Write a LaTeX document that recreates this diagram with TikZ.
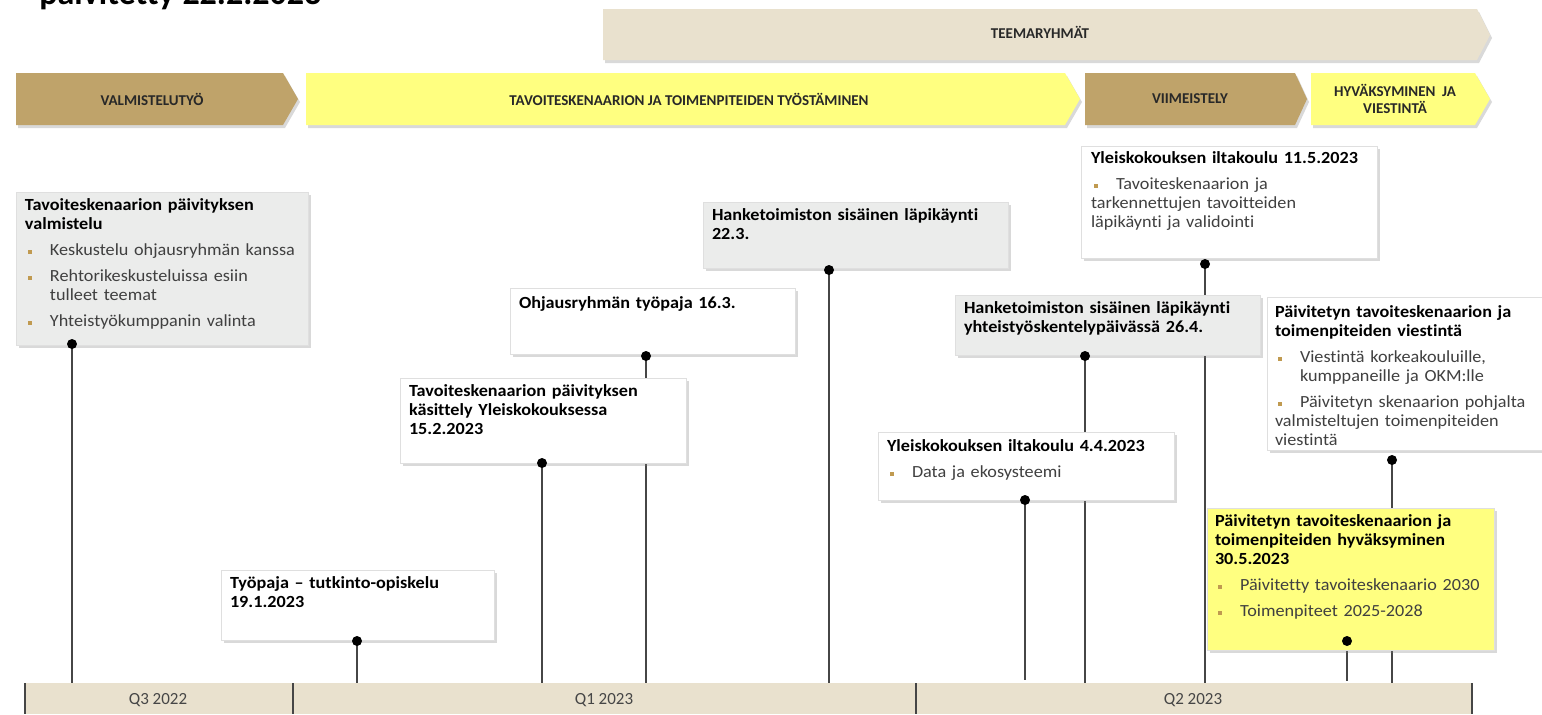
\documentclass[tikz,border=0pt]{standalone}
\usepackage{fontspec}
\setmainfont{Carlito}[RawFeature=-liga]
\newfontfamily\boxfont{Carlito}[FakeStretch=1.07, RawFeature=-liga]
\usetikzlibrary{shadows}
\definecolor{gold}{RGB}{191,163,106}
\definecolor{yelc}{RGB}{255,255,128}
\definecolor{beige}{RGB}{233,225,206}
\definecolor{graybox}{RGB}{235,236,235}
\definecolor{bulletc}{RGB}{192,154,80}
\definecolor{bodytext}{RGB}{64,64,64}
\definecolor{linec}{RGB}{70,70,70}
\definecolor{arrtext}{RGB}{40,40,40}
\definecolor{qtext}{RGB}{70,70,70}
\newcommand{\bitem}[1]{\par\vspace{3.5pt}\noindent\hangindent=12.5pt\hangafter=1\makebox[12.5pt][l]{\hspace{1.5pt}\textcolor{bulletc}{\raisebox{0.25ex}{\rule{1.8pt}{1.8pt}}}}\textcolor{bodytext}{#1}}
\begin{document}
\begin{tikzpicture}[x=0.5pt,y=-0.5pt,
  conn/.style={draw=linec, line width=0.6pt},
  dot/.style={circle, fill=black, inner sep=0pt, minimum size=5pt},
  boxw/.style={rectangle, fill=white, draw=gray!25, line width=0.4pt, inner sep=0pt,
    drop shadow={shadow xshift=1.5pt, shadow yshift=-1.5pt, opacity=0.3}},
  boxg/.style={boxw, fill=graybox},
  boxy/.style={boxw, fill=yelc},
  txt/.style={anchor=north west, inner sep=0pt, align=left,
    font=\boxfont\fontsize{8.5}{9.5}\selectfont, text=black},
  arrshape/.style={drop shadow={shadow xshift=1pt, shadow yshift=-1.5pt, opacity=0.3}},
  albl/.style={font=\bfseries\fontsize{7.5}{8.5}\selectfont, text=arrtext, align=center, inner sep=0pt},
  qlbl/.style={font=\fontsize{8.5}{10}\selectfont, text=qtext, inner sep=0pt},
  sep/.style={draw=linec, line width=1pt}
]
\useasboundingbox (0,0) rectangle (1542,714);

% partially visible title
\node[anchor=base west, inner sep=0pt, font=\bfseries\fontsize{17}{20}\selectfont] (title) at (39,4) {päivitetty 22.2.2023};

% phase arrows
\path[arrshape, fill=beige] (603,9) -- (1477,9) -- (1490,35) -- (1477,60) -- (603,60) -- cycle;
\node[albl] (teema) at (1040,32) {TEEMARYHMÄT};
\path[arrshape, fill=gold] (16,73) -- (283,73) -- (298,99) -- (283,125) -- (16,125) -- cycle;
\node[albl] (valm) at (152,99) {VALMISTELUTYÖ};
\path[arrshape, fill=yelc] (306,73) -- (1065,73) -- (1080,99) -- (1065,125) -- (306,125) -- cycle;
\node[albl] (tyost) at (689,99) {TAVOITESKENAARION JA TOIMENPITEIDEN TYÖSTÄMINEN};
\path[arrshape, fill=gold] (1085,73) -- (1295,73) -- (1307,99) -- (1295,125) -- (1085,125) -- cycle;
\node[albl] (viim) at (1190,99) {VIIMEISTELY};
\path[arrshape, fill=yelc] (1311,73) -- (1475,73) -- (1490,99) -- (1475,125) -- (1311,125) -- cycle;
\node[albl] (hyv) at (1395,99) {HYVÄKSYMINEN\ \ JA\\VIESTINTÄ};

% timeline band
\fill[beige] (25,683) rectangle (1472,714);
\coordinate (s1a) at (25,683); \coordinate (s1b) at (25,714);
\coordinate (s2a) at (293,683); \coordinate (s2b) at (293,714);
\coordinate (s3a) at (916,683); \coordinate (s3b) at (916,714);
\coordinate (s4a) at (1472,683); \coordinate (s4b) at (1472,714);
\draw[sep] (s1a) -- (s1b);
\draw[sep] (s2a) -- (s2b);
\draw[sep] (s3a) -- (s3b);
\draw[sep] (s4a) -- (s4b);
\node[qlbl] (q3) at (158,700) {Q3 2022};
\node[qlbl] (q1) at (604,700) {Q1 2023};
\node[qlbl] (q2) at (1193,700) {Q2 2023};

% dot positions and timeline anchor points
\coordinate (d1) at (72,344);   \coordinate (t1) at (72,683);
\coordinate (d2) at (357,641);  \coordinate (t2) at (357,683);
\coordinate (d3) at (542,463);  \coordinate (t3) at (542,683);
\coordinate (d4) at (646,356);  \coordinate (t4) at (646,683);
\coordinate (d5) at (829,270);  \coordinate (t5) at (829,683);
\coordinate (d6) at (1025,500); \coordinate (t6) at (1025,680);
\coordinate (d7) at (1085,356); \coordinate (t7) at (1085,683);
\coordinate (d8) at (1205,264); \coordinate (t8) at (1205,683);
\coordinate (d9) at (1392,460); \coordinate (t9) at (1392,683);
\coordinate (d10) at (1347,641);\coordinate (t10) at (1347,681);

\draw[conn] (d1) -- (t1);
\draw[conn] (d2) -- (t2);
\draw[conn] (d3) -- (t3);
\draw[conn] (d4) -- (t4);
\draw[conn] (d5) -- (t5);
\draw[conn] (d6) -- (t6);
\draw[conn] (d7) -- (t7);
\draw[conn] (d8) -- (t8);
\draw[conn] (d9) -- (t9);
\draw[conn] (d10) -- (t10);

% boxes
\node[boxg, minimum width=146pt, minimum height=76.5pt] (b1) at (162,268.5) {};
\node[txt, text width=140pt] (b1t) at ([xshift=4.5pt,yshift=-3.5pt]b1.north west)
 {\textbf{Tavoiteskenaarion päivityksen\newline valmistelu}
  \bitem{Keskustelu ohjausryhmän kanssa}
  \bitem{Rehtorikeskusteluissa esiin\newline tulleet teemat}
  \bitem{Yhteistyökumppanin valinta}};

\node[boxw, minimum width=136.5pt, minimum height=35pt] (b2) at (357.5,605) {};
\node[txt, text width=130pt] (b2t) at ([xshift=4.5pt,yshift=-3.5pt]b2.north west)
 {\textbf{Työpaja – tutkinto-opiskelu\newline 19.1.2023}};

\node[boxw, minimum width=143pt, minimum height=42.5pt] (b3) at (543,420.5) {};
\node[txt, text width=136pt] (b3t) at ([xshift=4.5pt,yshift=-3.5pt]b3.north west)
 {\textbf{Tavoiteskenaarion päivityksen\newline käsittely Yleiskokouksessa\newline 15.2.2023}};

\node[boxw, minimum width=142.5pt, minimum height=33pt] (b4) at (652.5,321) {};
\node[txt, text width=136pt] (b4t) at ([xshift=4.5pt,yshift=-4.5pt]b4.north west)
 {\textbf{Ohjausryhmän työpaja 16.3.}};

\node[boxg, minimum width=152.5pt, minimum height=33pt] (b5) at (855.5,235) {};
\node[txt, text width=146pt] (b5t) at ([xshift=4.5pt,yshift=-3.5pt]b5.north west)
 {\textbf{Hanketoimiston sisäinen läpikäynti\newline 22.3.}};

\node[boxw, minimum width=148pt, minimum height=34pt] (b6) at (1026,466) {};
\node[txt, text width=142pt] (b6t) at ([xshift=4.5pt,yshift=-4pt]b6.north west)
 {\textbf{Yleiskokouksen iltakoulu 4.4.2023}
  \bitem{Data ja ekosysteemi}};

\node[boxg, minimum width=152.5pt, minimum height=30pt] (b7) at (1107.5,325) {};
\node[txt, text width=146pt] (b7t) at ([xshift=4.5pt,yshift=-3.5pt]b7.north west)
 {\textbf{Hanketoimiston sisäinen läpikäynti\newline yhteistyöskentelypäivässä 26.4.}};

\node[boxw, minimum width=148pt, minimum height=56pt] (b8) at (1229,202) {};
\node[txt, text width=142pt] (b8t) at ([xshift=5pt,yshift=-3pt]b8.north west)
 {\textbf{Yleiskokouksen iltakoulu 11.5.2023}
  \bitem{Tavoiteskenaarion ja\newline tarkennettujen tavoitteiden\newline läpikäynti ja validointi}};

\node[boxw, minimum width=146.5pt, minimum height=76.5pt] (b9) at (1413.5,373.5) {};
\node[txt, text width=136pt] (b9t) at ([xshift=4pt,yshift=-4.5pt]b9.north west)
 {\textbf{Päivitetyn tavoiteskenaarion ja\newline toimenpiteiden viestintä}
  \bitem{Viestintä korkeakouluille,\newline kumppaneille ja OKM:lle}
  \bitem{Päivitetyn skenaarion pohjalta\newline valmisteltujen toimenpiteiden\newline viestintä}};

\node[boxy, minimum width=143.5pt, minimum height=71pt] (b10) at (1350.5,579) {};
\node[txt, text width=137pt] (b10t) at ([xshift=4pt,yshift=-3.5pt]b10.north west)
 {\textbf{Päivitetyn tavoiteskenaarion ja\newline toimenpiteiden hyväksyminen\newline 30.5.2023}
  \bitem{Päivitetty tavoiteskenaario 2030}
  \bitem{Toimenpiteet 2025-2028}};

% dots
\node[dot] (p1) at (d1) {};
\node[dot] (p2) at (d2) {};
\node[dot] (p3) at (d3) {};
\node[dot] (p4) at (d4) {};
\node[dot] (p5) at (d5) {};
\node[dot] (p6) at (d6) {};
\node[dot] (p7) at (d7) {};
\node[dot] (p8) at (d8) {};
\node[dot] (p9) at (d9) {};
\node[dot] (p10) at (d10) {};
\end{tikzpicture}
\end{document}
